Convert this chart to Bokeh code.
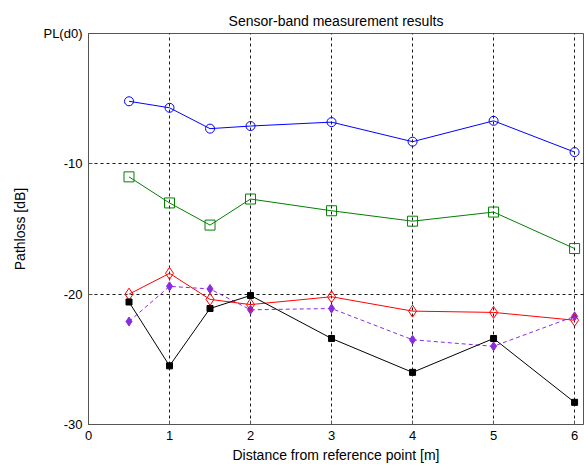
from bokeh.plotting import figure
from bokeh.models import Range1d, FixedTicker
from bokeh.embed import file_html
from bokeh.resources import INLINE

distance = [0.5, 1, 1.5, 2, 3, 4, 5, 6]
series_blue = [-5.2, -5.7, -7.3, -7.1, -6.8, -8.3, -6.7, -9.1]
series_green = [-11.0, -13.0, -14.7, -12.7, -13.6, -14.4, -13.7, -16.5]
series_red = [-20.0, -18.4, -20.4, -20.8, -20.2, -21.3, -21.4, -22.0]
series_purple = [-22.1, -19.4, -19.6, -21.2, -21.1, -23.5, -24.0, -21.7]
series_black = [-20.6, -25.5, -21.1, -20.1, -23.4, -26.0, -23.4, -28.3]

x_ticks = [0, 1, 2, 3, 4, 5, 6]
y_ticks = [-30, -20, -10, 0]
y_tick_labels = {-30: "-30", -20: "-20", -10: "-10", 0: "PL(d0)"}

FONT = "Liberation Sans"

p = figure(width=585, height=468, output_backend="svg", toolbar_location=None,
           x_range=Range1d(0, 6.11), y_range=Range1d(-30, 0),
           min_border_left=88, min_border_right=2, min_border_top=33, min_border_bottom=44,
           title="Sensor-band measurement results")
p.title.align = "center"
p.title.text_font = FONT
p.title.text_font_size = "14px"
p.title.text_font_style = "normal"
p.title.text_color = "black"
p.title.offset = 0
p.title.standoff = 10

p.outline_line_color = "#555555"
p.outline_line_width = 1
p.background_fill_color = "white"
p.border_fill_color = "white"

for ax in (p.xaxis[0], p.yaxis[0]):
    ax.axis_line_color = "#555555"
    ax.major_tick_line_color = "#555555"
    ax.major_tick_in = 4
    ax.major_tick_out = 0
    ax.minor_tick_line_color = None
    ax.major_label_text_font = FONT
    ax.major_label_text_font_size = "13px"
    ax.major_label_text_color = "black"
    ax.axis_label_text_font = FONT
    ax.axis_label_text_font_size = "14px"
    ax.axis_label_text_font_style = "normal"
    ax.axis_label_text_color = "black"

p.xaxis.ticker = FixedTicker(ticks=x_ticks)
p.yaxis.ticker = FixedTicker(ticks=y_ticks)
p.yaxis.major_label_overrides = y_tick_labels
p.xaxis.axis_label = "Distance from reference point [m]"
p.yaxis.axis_label = "Pathloss [dB]"
p.xaxis.axis_label_standoff = 4
p.yaxis.axis_label_standoff = 12
p.xaxis.major_label_standoff = 6
p.yaxis.major_label_standoff = 6

p.xgrid.ticker = FixedTicker(ticks=x_ticks[1:])
p.ygrid.ticker = FixedTicker(ticks=[-20, -10])
for g in (p.xgrid[0], p.ygrid[0]):
    g.grid_line_color = "black"
    g.grid_line_dash = "3 3"
    g.grid_line_width = 1
    g.grid_line_alpha = 0.9

# blue circles
p.line(distance, series_blue, line_color="#0000ff", line_width=1)
p.scatter(distance, series_blue, marker="circle", size=9, fill_color=None,
          line_color="#0000ff", line_width=1)
# green squares
p.line(distance, series_green, line_color="#008000", line_width=1)
p.scatter(distance, series_green, marker="square", size=10, fill_color=None,
          line_color="#008000", line_width=1)
# purple dashed filled diamonds
p.line(distance, series_purple, line_color="#8a2be2", line_width=1, line_dash="4 3")
p.scatter(distance, series_purple, marker="diamond", size=9, fill_color="#8a2be2",
          line_color="#8a2be2", line_width=1)
# red open diamonds
p.line(distance, series_red, line_color="#ff0000", line_width=1)
p.scatter(distance, series_red, marker="diamond", size=12, fill_color=None,
          line_color="#ff0000", line_width=1)
# black filled squares
p.line(distance, series_black, line_color="black", line_width=1)
p.scatter(distance, series_black, marker="square", size=6, fill_color="black",
          line_color="black", line_width=1)

open("out.html", "w").write(file_html(p, INLINE))
